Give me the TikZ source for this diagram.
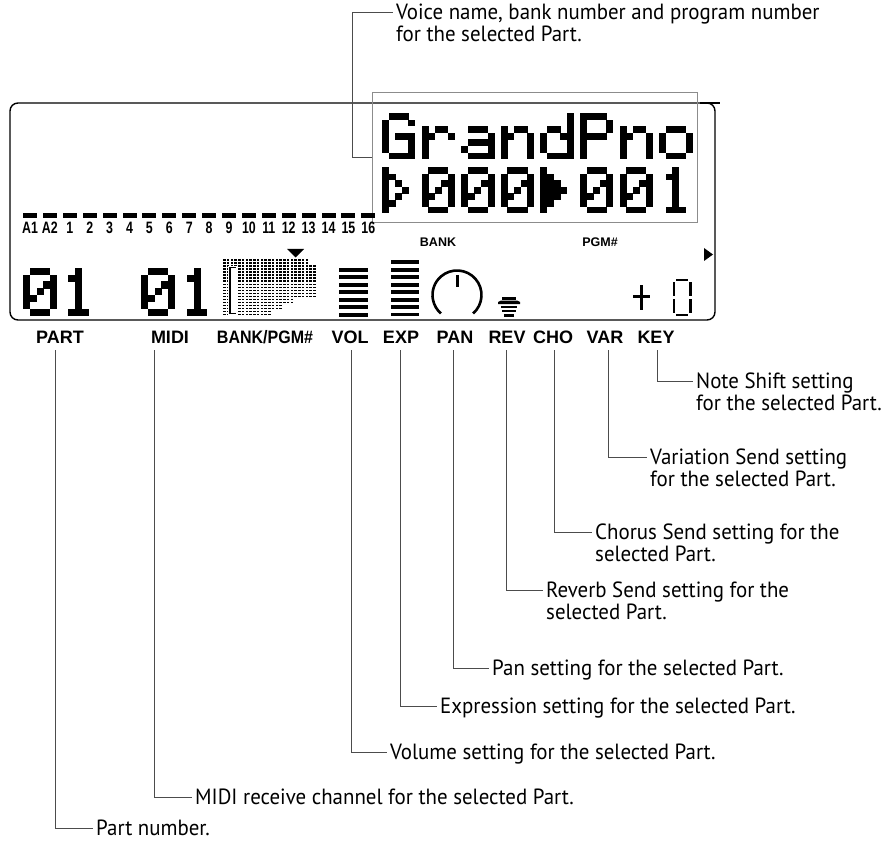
\documentclass[tikz,border=0pt]{standalone}
\usepackage{fontspec}
\setmainfont[FakeStretch=0.95]{PT Sans}
\newfontfamily\lcdfont{Liberation Sans}
\usepackage{graphicx}
\usepackage{tikz}

% 5x7 dot patterns, given as col/row
\def\glyphG{1/0,2/0,3/0,0/1,4/1,0/2,0/3,2/3,3/3,4/3,0/4,4/4,0/5,4/5,1/6,2/6,3/6,4/6}
\def\glyphr{0/2,2/2,3/2,0/3,1/3,4/3,0/4,0/5,0/6}
\def\glypha{1/2,2/2,3/2,4/3,1/4,2/4,3/4,4/4,0/5,4/5,1/6,2/6,3/6,4/6}
\def\glyphn{0/2,2/2,3/2,0/3,1/3,4/3,0/4,4/4,0/5,4/5,0/6,4/6}
\def\glyphd{4/0,4/1,1/2,2/2,4/2,0/3,3/3,4/3,0/4,4/4,0/5,4/5,1/6,2/6,3/6,4/6}
\def\glyphP{0/0,1/0,2/0,3/0,0/1,4/1,0/2,4/2,0/3,1/3,2/3,3/3,0/4,0/5,0/6}
\def\glypho{1/2,2/2,3/2,0/3,4/3,0/4,4/4,0/5,4/5,1/6,2/6,3/6}
\expandafter\def\csname glyph0\endcsname{1/0,2/0,3/0,0/1,4/1,0/2,3/2,4/2,0/3,2/3,4/3,0/4,1/4,4/4,0/5,4/5,1/6,2/6,3/6}
\expandafter\def\csname glyph1\endcsname{2/0,1/1,2/1,2/2,2/3,2/4,2/5,1/6,2/6,3/6}
\def\glyphT{0/0,0/1,1/1,0/2,2/2,0/3,3/3,0/4,2/4,0/5,1/5,0/6}
\def\glyphF{0/0,0/1,1/1,0/2,1/2,2/2,0/3,1/3,2/3,3/3,0/4,1/4,2/4,0/5,1/5,0/6}

\newcommand{\pixchar}[4]{%
  \expandafter\let\expandafter\pixlist\csname glyph#4\endcsname
  \foreach \cx/\ry in \pixlist {\fill (#1+\cx*#3,#2-\ry*#3) rectangle ++(#3+0.3,-#3-0.3);}}

\begin{document}
\begin{tikzpicture}[x=1pt,y=1pt]
  \tikzset{lcdlabel/.style = {font=\lcdfont\bfseries\fontsize{18}{18}\selectfont, anchor=base, inner sep=0pt, inner ysep=7pt, text depth=0pt}}
  \tikzset{lcdsmall/.style = {font=\lcdfont\bfseries\fontsize{12.5}{12.5}\selectfont, anchor=base, inner sep=0pt}}
  \tikzset{note/.style = {font=\fontsize{22}{22}\selectfont, align=left, anchor=base west, inner sep=3pt}}
  \tikzset{callout/.style = {draw=black!70, line width=1pt}}

  \useasboundingbox (0,0) rectangle (883,-842);

  % display frame
  \draw[line width=1.4pt, rounded corners=8pt] (10,-103) rectangle (715,-320);
  \draw[line width=1.4pt] (700,-103) -- (720,-103);
  \node[draw=black!45, line width=1pt, minimum width=325pt, minimum height=130pt, inner sep=0pt] (voice) at (534.5,-158) {};

  % voice name and numbers
  \foreach \g [count=\i from 0] in {G,r,a,n,d,P,n,o}
    \pixchar{382+39.6*\i}{-113}{6.6}{\g};
  \foreach \g [count=\i from 0] in {T,0,0,0,F,0,0,1}
    \pixchar{382+39.6*\i}{-167}{6.6}{\g};
  \node[lcdsmall] (bankTag) at (438,-247) {BANK};
  \node[lcdsmall] (pgmTag) at (600,-247) {PGM\#};
  \fill (704,-248) -- (713,-254.5) -- (704,-261) -- cycle;

  % part row
  \foreach \t [count=\i from 0] in {A1,A2,1,2,3,4,5,6,7,8,9,10,11,12,13,14,15,16} {
    \fill (23+19.9*\i,-213) rectangle ++(14,-5);
    \node[lcdsmall, font=\lcdfont\bfseries\fontsize{16.5}{16.5}\selectfont] (p\i) at (30+19.9*\i,-234) {\scalebox{0.75}[1]{\t}};
  }

  % part and midi numbers
  \foreach \g [count=\i from 0] in {0,1}
    \pixchar{23+38.5*\i}{-268}{6.75}{\g};
  \foreach \g [count=\i from 0] in {0,1}
    \pixchar{141+39*\i}{-268}{6.75}{\g};

  % bank icon
  \foreach \n [count=\r from 0] in {23,23,25,25,25,25,25,25,25,25,25,25,25,19,19,16,16,13,13}
    \foreach \cx in {1,...,\n}
      \fill (219.25+3.75*\cx,-259.5-3*\r) rectangle ++(2.7,-1.7);
  \fill[white] (227.5,-266) rectangle (236.5,-315);
  \draw[line width=1.2pt] (236,-267.5) -- (230,-267.5) -- (230,-313.5) -- (236,-313.5);
  \fill (287,-249) -- (304,-249) -- (295.5,-257.5) -- cycle;

  % vol and exp bars
  \foreach \i in {0,...,6}
    \fill (339,-268-7.45*\i) rectangle ++(29,-3.8);
  \foreach \i in {0,...,7}
    \fill (391,-260.5-7.45*\i) rectangle ++(28,-3.8);

  % pan knob
  \draw[line width=2.6pt] (457,-295) ++(-49:24.5) arc[start angle=-49, end angle=229, radius=24.5];
  \draw[line width=3pt] (457,-275) -- (457,-287);

  % rev icon
  \fill (502,-297) rectangle (516,-299.5);
  \fill (501,-300.5) -- (517,-300.5) -- (520,-302) -- (520,-304) -- (498,-304) -- (498,-302) -- cycle;
  \fill (501,-305.5) rectangle (517,-308);
  \fill (502,-309.5) rectangle (516,-312);
  \fill (504,-313.5) rectangle (514,-317);

  % key shift
  \fill (633,-295) rectangle (650,-298);
  \fill (640,-285) rectangle (643,-310);
  \fill (676,-279) rectangle (688,-281.5);
  \fill (672.5,-282) rectangle (675,-296);
  \fill (689,-282) rectangle (691.5,-296);
  \fill (672.5,-299) rectangle (675,-313);
  \fill (689,-299) rectangle (691.5,-313);
  \fill (676,-313.5) rectangle (688,-316);

  % labels under the display
  \node[lcdlabel] (part) at (60,-343) {PART};
  \node[lcdlabel] (midi) at (170,-343) {MIDI};
  \node[lcdlabel] (bank) at (265,-343) {\scalebox{0.89}[1]{BANK/PGM\#}};
  \node[lcdlabel] (vol) at (350,-343) {VOL};
  \node[lcdlabel] (exp) at (401,-343) {EXP};
  \node[lcdlabel] (pan) at (455,-343) {PAN};
  \node[lcdlabel] (rev) at (507,-343) {REV};
  \node[lcdlabel] (cho) at (553,-343) {CHO};
  \node[lcdlabel] (var) at (605,-343) {VAR};
  \node[lcdlabel] (key) at (656,-343) {KEY};

  % explanations (two-line ones sit on their last line)
  \node[note] (voiceTxt) at (393,-42) {Voice name, bank number and program number\\for the selected Part.};
  \node[note] (keyTxt) at (693,-410) {Note Shift setting\\for the selected Part.};
  \node[note] (varTxt) at (647,-486) {Variation Send setting\\for the selected Part.};
  \node[note] (choTxt) at (592,-561) {Chorus Send setting for the\\selected Part.};
  \node[note] (revTxt) at (543,-619) {Reverb Send setting for the\\selected Part.};
  \node[note] (panTxt) at (489,-675) {Pan setting for the selected Part.};
  \node[note] (expTxt) at (437,-713) {Expression setting for the selected Part.};
  \node[note] (volTxt) at (387,-759) {Volume setting for the selected Part.};
  \node[note] (midiTxt) at (192,-804) {MIDI receive channel for the selected Part.};
  \node[note] (partTxt) at (93,-835) {Part number.};

  \draw[callout] (voice.west) -- ++(-19,0) |- ([yshift=29pt]voiceTxt.base west);
  \foreach \from/\dx/\to/\dy in {part/-5/partTxt/7, midi/-16/midiTxt/7, vol/1/volTxt/7, exp/-1/expTxt/7, pan/-2/panTxt/7, rev/-1/revTxt/29, cho/1/choTxt/29, var/3/varTxt/29, key/1/keyTxt/29}
    \draw[callout] ([xshift=\dx pt]\from.south) |- ([yshift=\dy pt]\to.base west);
\end{tikzpicture}
\end{document}
